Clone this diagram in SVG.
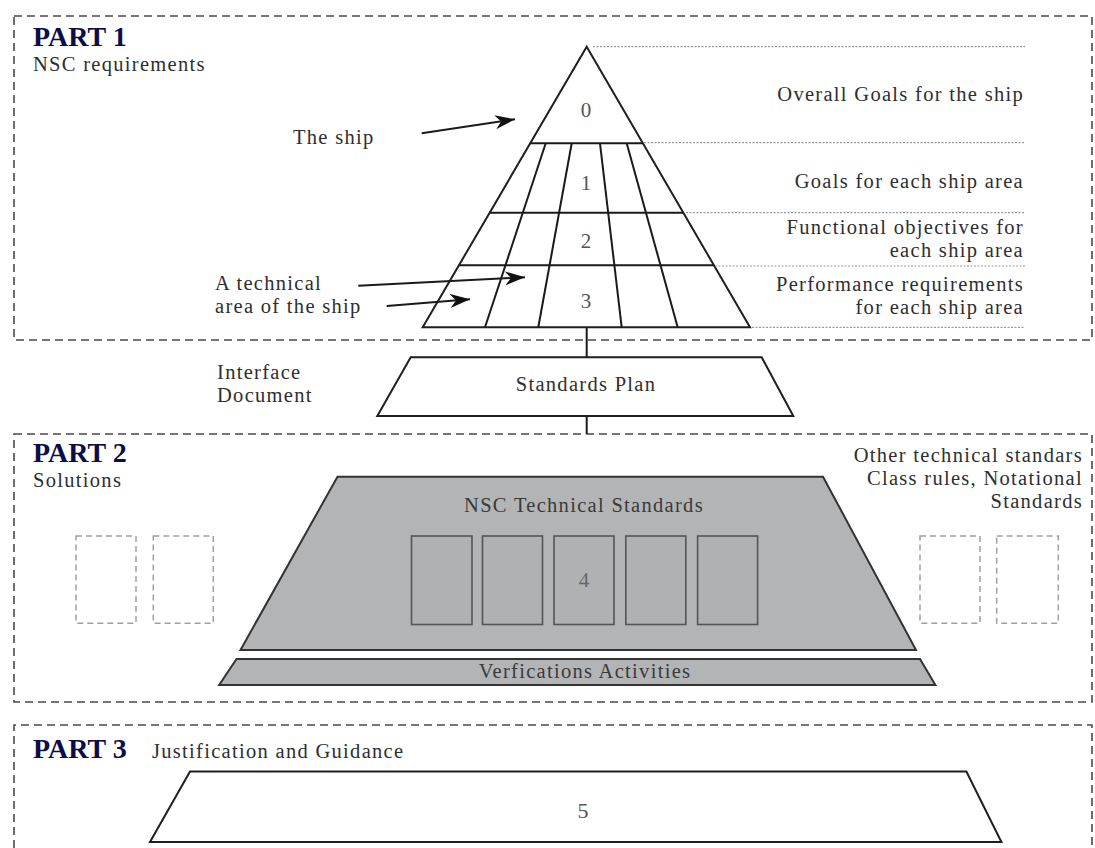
<svg xmlns="http://www.w3.org/2000/svg" width="1095" height="848" viewBox="0 0 1095 848">
<style>
  .t{font-family:"Liberation Serif","Times New Roman",serif;font-size:20.5px;letter-spacing:1.3px;fill:#2e2e2e}
  .r{text-anchor:end}
  .m{text-anchor:middle}
  .part{font-family:"Liberation Serif","Times New Roman",serif;font-size:28px;font-weight:bold;fill:#0c0c48}
  .num{font-family:"Liberation Serif","Times New Roman",serif;font-size:21px;fill:#555;text-anchor:middle}
  .box{fill:none;stroke:#4a4a4a;stroke-width:1.6;stroke-dasharray:8 5}
  .ref{fill:none;stroke:#9a9a9a;stroke-width:1.2;stroke-dasharray:2 1.5}
  .ln{fill:none;stroke:#1a1a1a;stroke-width:2}
  .wt{fill:#fff;stroke:#1f1f1f;stroke-width:2}
  .gr{fill:#b3b4b6;stroke:#333;stroke-width:2}
  .cell{fill:#b0b1b3;stroke:#555;stroke-width:1.6}
  .ghost{fill:#fff;stroke:#a0a0a0;stroke-width:1.5;stroke-dasharray:6 4}
  .conn{fill:none;stroke:#1a1a1a;stroke-width:2}
</style>
<defs>
  <marker id="ah" markerUnits="userSpaceOnUse" markerWidth="22" markerHeight="14" refX="20" refY="7" orient="auto">
    <path d="M0,0 L20,7 L0,14 L6,7 z" fill="#111"/>
  </marker>
</defs>
<rect width="1095" height="848" fill="#fff"/>

<!-- PART 1 -->
<g id="part1">
  <rect class="box" x="14" y="16" width="1078" height="324"/>
  <text class="part" x="33" y="46">PART 1</text>
  <text class="t" x="33" y="71">NSC requirements</text>
</g>

<g id="pyramid">
  <polygon class="wt" points="586.7,46.7 750,327.3 422.7,327.3"/>
  <line class="ln" x1="530.2" y1="143.3" x2="642.9" y2="143.3"/>
  <line class="ln" x1="489.7" y1="212.7" x2="683.3" y2="212.7"/>
  <line class="ln" x1="458.9" y1="265.3" x2="713.9" y2="265.3"/>
  <line class="ln" x1="545.7" y1="143.3" x2="485" y2="327.3"/>
  <line class="ln" x1="571.7" y1="143.3" x2="538.3" y2="327.3"/>
  <line class="ln" x1="600" y1="143.3" x2="621.7" y2="327.3"/>
  <line class="ln" x1="626.7" y1="143.3" x2="677.7" y2="327.3"/>
  <text class="num" x="586" y="117">0</text>
  <text class="num" x="586" y="190">1</text>
  <text class="num" x="586" y="248">2</text>
  <text class="num" x="586" y="308">3</text>
</g>

<g id="levels">
  <line class="ref" x1="593" y1="46.7" x2="1025" y2="46.7"/>
  <line class="ref" x1="644" y1="142.7" x2="1025" y2="142.7"/>
  <line class="ref" x1="686" y1="212.7" x2="1025" y2="212.7"/>
  <line class="ref" x1="715" y1="266" x2="1025" y2="266"/>
  <line class="ref" x1="752" y1="327.3" x2="1025" y2="327.3"/>
  <text class="t r" x="1024" y="101">Overall Goals for the ship</text>
  <text class="t r" x="1024" y="188">Goals for each ship area</text>
  <text class="t r" x="1024" y="234">Functional objectives for</text>
  <text class="t r" x="1024" y="257">each ship area</text>
  <text class="t r" x="1024" y="291">Performance requirements</text>
  <text class="t r" x="1024" y="314">for each ship area</text>
</g>

<g id="label-ship">
  <text class="t" x="293" y="144">The ship</text>
</g>
<g id="label-area">
  <text class="t" x="215" y="290">A technical</text>
  <text class="t" x="215" y="313">area of the ship</text>
</g>

<g id="standards-plan">
  <polygon class="wt" points="410.7,357.3 761.7,357.3 793.3,416 377.3,416"/>
  <text class="t m" x="586" y="391">Standards Plan</text>
</g>
<g id="interface-doc">
  <text class="t" x="217" y="379">Interface</text>
  <text class="t" x="217" y="402">Document</text>
</g>

<!-- PART 2 -->
<g id="part2">
  <rect class="box" x="14" y="434" width="1078" height="268"/>
  <text class="part" x="33" y="462">PART 2</text>
  <text class="t" x="33" y="487">Solutions</text>
</g>
<g id="nsc-standards">
  <polygon class="gr" points="337.5,476.7 823,476.7 916,650 240.5,650"/>
  <text class="t m" x="584" y="512" style="fill:#3a3a3a">NSC Technical Standards</text>
  <rect class="cell" x="411.5" y="536" width="60.5" height="88.5"/>
  <rect class="cell" x="482.5" y="536" width="60" height="88.5"/>
  <rect class="cell" x="554" y="536" width="60" height="88.5"/>
  <rect class="cell" x="625.8" y="536" width="60" height="88.5"/>
  <rect class="cell" x="697.6" y="536" width="60" height="88.5"/>
  <text class="num" x="584" y="587" style="fill:#666">4</text>
</g>
<g id="verifications">
  <polygon class="gr" points="236.5,659 920,659 935.4,685 219.2,685"/>
  <text class="t m" x="585" y="678" style="fill:#3a3a3a">Verfications Activities</text>
</g>
<g id="other-left">
  <rect class="ghost" x="76" y="536" width="60" height="87.3"/>
  <rect class="ghost" x="153.3" y="536" width="60" height="87.3"/>
</g>
<g id="other-right">
  <rect class="ghost" x="920" y="536" width="60" height="87.3"/>
  <rect class="ghost" x="996.7" y="536" width="61.6" height="87.3"/>
  <text class="t r" x="1083" y="462">Other technical standars</text>
  <text class="t r" x="1083" y="485">Class rules, Notational</text>
  <text class="t r" x="1083" y="508">Standards</text>
</g>

<!-- PART 3 -->
<g id="part3">
  <path class="box" d="M14,848 V725 H1092 V848"/>
  <text class="part" x="33" y="758">PART 3</text>
  <text class="t" x="152" y="758">Justification and Guidance</text>
</g>
<g id="justification">
  <polygon class="wt" points="190,771.5 966.4,771.5 1001.4,842 150,842"/>
  <text class="num" x="583" y="818" style="font-size:22px">5</text>
</g>

<g id="connectors">
  <line class="conn" x1="421.7" y1="133.3" x2="515" y2="119.3" marker-end="url(#ah)"/>
  <line class="conn" x1="358.3" y1="285.7" x2="525" y2="277.3" marker-end="url(#ah)"/>
  <line class="conn" x1="386.7" y1="306" x2="470" y2="299.3" marker-end="url(#ah)"/>
  <line class="conn" x1="586.7" y1="327.3" x2="586.7" y2="357.3"/>
  <line class="conn" x1="586.7" y1="416" x2="586.7" y2="434"/>
</g>
</svg>
